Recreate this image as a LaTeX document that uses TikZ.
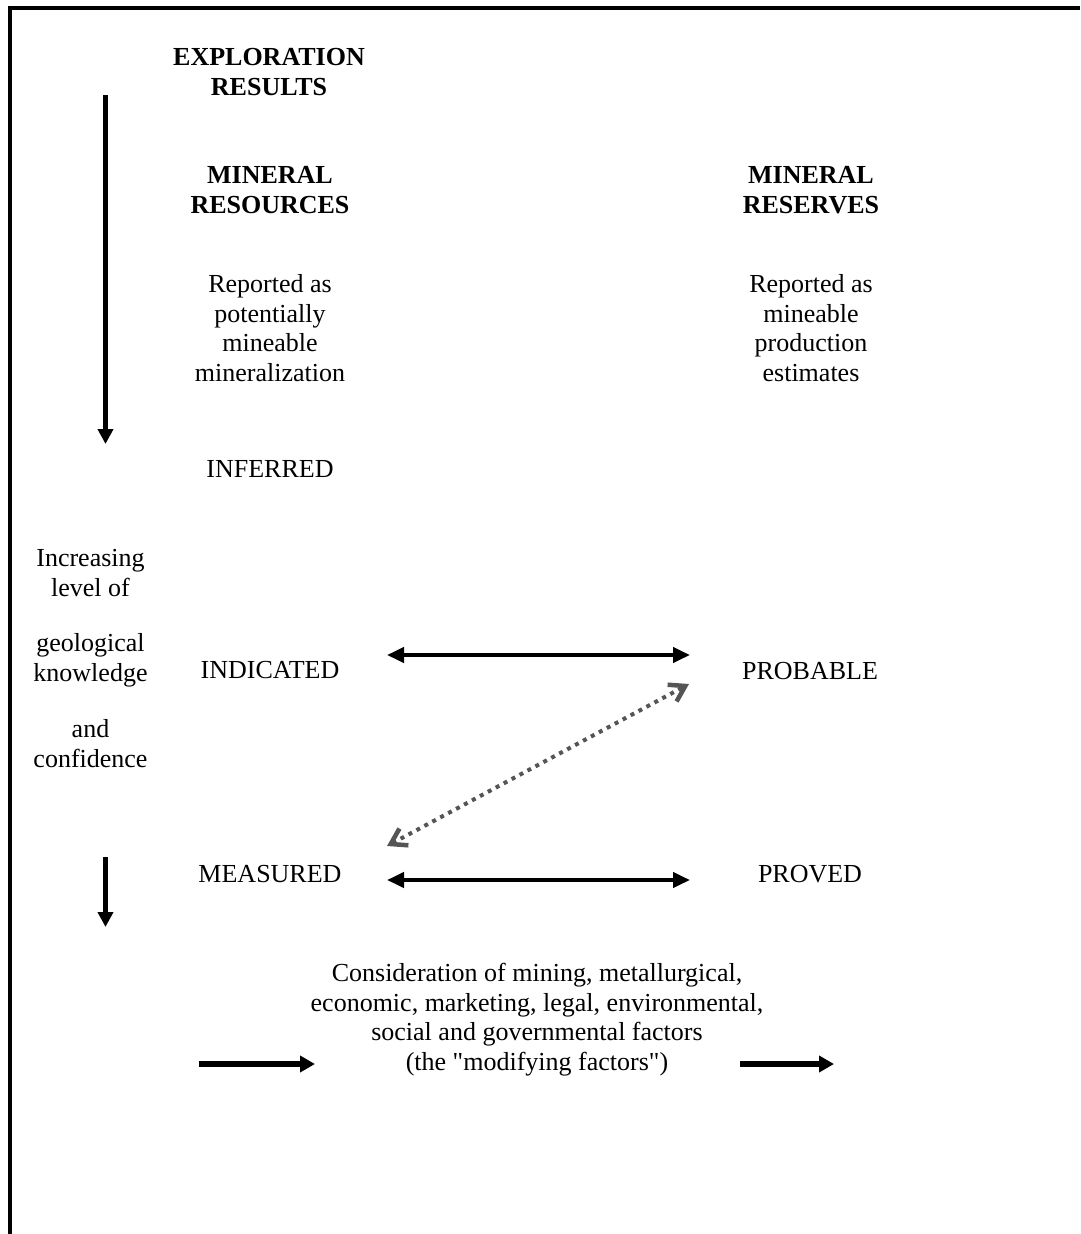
\documentclass[tikz,border=0pt]{standalone}
\usepackage{fontspec}
\setmainfont{Liberation Serif}
\newfontfamily\plainserif{Liberation Serif}
\usetikzlibrary{arrows.meta}
\definecolor{dotgray}{RGB}{85,85,85}
\begin{document}
\begin{tikzpicture}[x=1pt,y=-1pt,
  txt/.style={font=\plainserif\fontsize{26}{29.5}\selectfont, align=center, anchor=base, inner sep=0pt},
  ttl/.style={txt, font=\plainserif\fontsize{26}{30}\selectfont\bfseries},
  downarrow/.style={line width=4.5pt, -{Triangle[length=15pt,width=15pt]}},
  linkarrow/.style={line width=4pt, {Triangle[length=17pt,width=15pt]}-{Triangle[length=17pt,width=15pt]}},
  dotlink/.style={dotgray, line width=4pt, dash pattern=on 4pt off 5pt,
    {Straight Barb[length=15pt,width=19pt,line width=4.5pt]}-{Straight Barb[length=15pt,width=19pt,line width=4.5pt]}},
  flowarrow/.style={line width=5.5pt, -{Triangle[length=15pt,width=16pt]}}
]
\useasboundingbox (0,0) rectangle (1080,1234);
% frame
\draw[line width=4pt] (1080,8) -- (10,8) -- (10,1234);

% titles (anchor base = baseline of last line)
\node[ttl] (expl) at (269,95) {EXPLORATION\\RESULTS};
\node[ttl] (mres) at (270,213) {MINERAL\\RESOURCES};
\node[ttl] (mrsv) at (811,213) {MINERAL\\RESERVES};

% descriptions
\node[txt] (dres) at (270,381) {Reported as\\potentially\\mineable\\mineralization};
\node[txt] (drsv) at (811,381) {Reported as\\mineable\\production\\estimates};

% categories
\node[txt] (inf) at (270,477) {INFERRED};
\node[txt] (ind) at (270,678) {INDICATED};
\node[txt] (mea) at (270,882) {MEASURED};
\node[txt] (prob) at (810,679) {PROBABLE};
\node[txt] (prov) at (810,882) {PROVED};

% left side text
\node[txt] (lv1) at (90.5,596) {Increasing\\level of};
\node[txt] (lv2) at (90.5,681) {geological\\knowledge};
\node[txt] (lv3) at (90.5,767) {and\\confidence};

% modifying factors
\node[txt] (mod) at (537,1070) {Consideration of mining, metallurgical,\\economic, marketing, legal, environmental,\\social and governmental factors\\(the "modifying factors")};

% coordinates for free arrow ends
\coordinate (v1s) at (105.5,95);
\coordinate (v1e) at (105.5,444);
\coordinate (v2s) at (105.5,857);
\coordinate (v2e) at (105.5,927);
\coordinate (h1l) at (387,655);
\coordinate (h1r) at (690,655);
\coordinate (h2l) at (387,880);
\coordinate (h2r) at (690,880);
\coordinate (dl) at (387,846);
\coordinate (dr) at (689,684);
\coordinate (b1s) at (199,1064);
\coordinate (b1e) at (315,1064);
\coordinate (b2s) at (740,1064);
\coordinate (b2e) at (834,1064);

\draw[downarrow] (v1s) -- (v1e);
\draw[downarrow] (v2s) -- (v2e);
\draw[linkarrow] (h1l) -- (h1r);
\draw[linkarrow] (h2l) -- (h2r);
\draw[dotlink] (dl) -- (dr);
\draw[flowarrow] (b1s) -- (b1e);
\draw[flowarrow] (b2s) -- (b2e);
\end{tikzpicture}
\end{document}
